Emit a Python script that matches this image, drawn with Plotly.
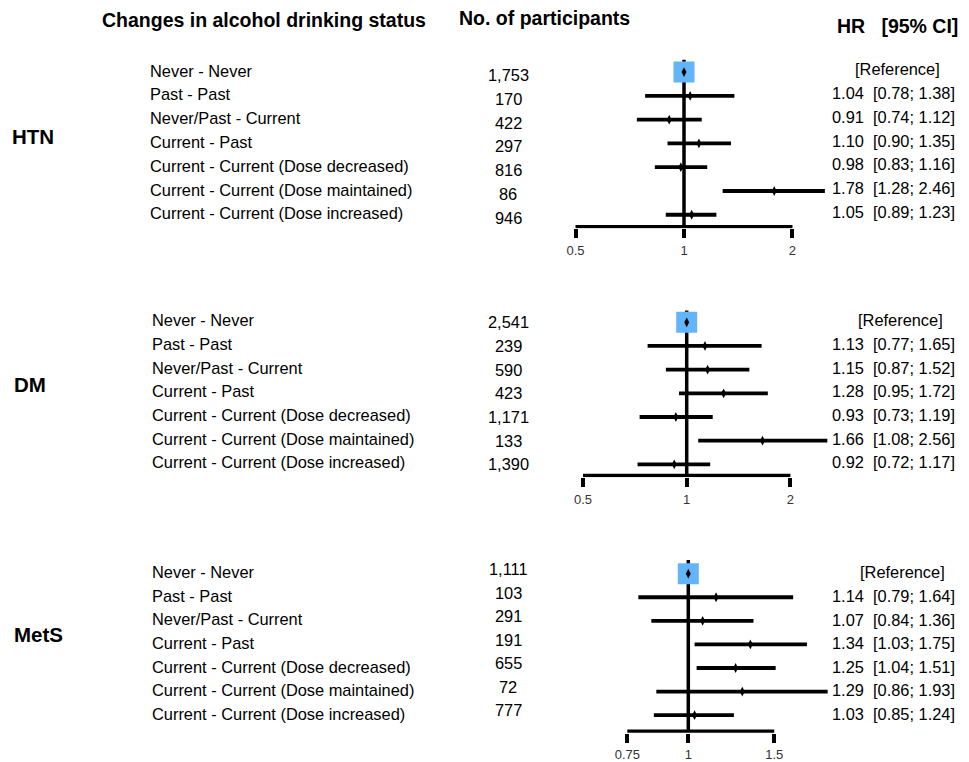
import math
import plotly.graph_objects as go

# ---------------- data ----------------
categories = [
    "Never - Never",
    "Past - Past",
    "Never/Past - Current",
    "Current - Past",
    "Current - Current (Dose decreased)",
    "Current - Current (Dose maintained)",
    "Current - Current (Dose increased)",
]
groups = ["HTN", "DM", "MetS"]

htn_n = ["1,753", "170", "422", "297", "816", "86", "946"]
htn_hr = [1.00, 1.04, 0.91, 1.10, 0.98, 1.78, 1.05]
htn_lo = [None, 0.78, 0.74, 0.90, 0.83, 1.28, 0.89]
htn_hi = [None, 1.38, 1.12, 1.35, 1.16, 2.46, 1.23]

dm_n = ["2,541", "239", "590", "423", "1,171", "133", "1,390"]
dm_hr = [1.00, 1.13, 1.15, 1.28, 0.93, 1.66, 0.92]
dm_lo = [None, 0.77, 0.87, 0.95, 0.73, 1.08, 0.72]
dm_hi = [None, 1.65, 1.52, 1.72, 1.19, 2.56, 1.17]

mets_n = ["1,111", "103", "291", "191", "655", "72", "777"]
mets_hr = [1.00, 1.14, 1.07, 1.34, 1.25, 1.29, 1.03]
mets_lo = [None, 0.79, 0.84, 1.03, 1.04, 0.86, 0.85]
mets_hi = [None, 1.64, 1.36, 1.75, 1.51, 1.93, 1.24]

htn_ticks = [0.5, 1, 2]
dm_ticks = [0.5, 1, 2]
mets_ticks = [0.75, 1, 1.5]
htn_ticktext = ["0.5", "1", "2"]
dm_ticktext = ["0.5", "1", "2"]
mets_ticktext = ["0.75", "1", "1.5"]

# ---------------- layout constants ----------------
W, H = 969, 762
FONT = "Liberation Sans, Arial, Helvetica, sans-serif"
TXT = 16.4
SQUARE_COLOR = "#63B4F8"
NB = "\u00a0"

panels = [
    dict(group="HTN", n=htn_n, hr=htn_hr, lo=htn_lo, hi=htn_hi,
         ticks=htn_ticks, ticktext=htn_ticktext,
         one_px=684.0, px_per_ln=156.5, row0_px=72.5, gap=23.9, axis_row=6.5,
         vtop=-0.52, label_x=148, label_dy=-0.06, num_dy=0.12, ci_dy=-0.12,
         ref_cx=897, group_y=137, group_x=10),
    dict(group="DM", n=dm_n, hr=dm_hr, lo=dm_lo, hi=dm_hi,
         ticks=dm_ticks, ticktext=dm_ticktext,
         one_px=686.7, px_per_ln=149.6, row0_px=324.0, gap=23.8, axis_row=6.47,
         vtop=-0.5, label_x=150, label_dy=-0.08, num_dy=0.0, ci_dy=-0.08,
         ref_cx=900, group_y=387, group_x=12),
    dict(group="MetS", n=mets_n, hr=mets_hr, lo=mets_lo, hi=mets_hi,
         ticks=mets_ticks, ticktext=mets_ticktext,
         one_px=688.3, px_per_ln=212.0, row0_px=576.7, gap=23.7, axis_row=6.68,
         vtop=-0.58, label_x=150, label_dy=-0.06, num_dy=-0.2, ci_dy=-0.05,
         ref_cx=902, group_y=638, group_x=12),
]

DOM_X0, DOM_X1 = 550, 860
EPS = 0.07

fig = go.Figure()
annotations = []
layout_axes = {}

for k, p in enumerate(panels):
    sfx = "" if k == 0 else str(k + 1)
    xa, ya = "x" + sfx, "y" + sfx
    rows = list(range(len(categories)))

    # x axis (log) calibrated in pixels
    per_dec = p["px_per_ln"] * math.log(10)
    xr = [(DOM_X0 - p["one_px"]) / per_dec, (DOM_X1 - p["one_px"]) / per_dec]
    # y axis: rows (reversed)
    ybot = p["axis_row"] + EPS
    ytop = -1.0
    dom_bot_px = p["row0_px"] + ybot * p["gap"]
    dom_top_px = p["row0_px"] + ytop * p["gap"]

    layout_axes["xaxis" + sfx] = dict(
        type="log", range=xr, domain=[DOM_X0 / W, DOM_X1 / W], anchor=ya,
        showgrid=False, zeroline=False, showline=False,
        tickmode="array", tickvals=p["ticks"], ticktext=p["ticktext"],
        ticks="outside", ticklen=9, tickwidth=3.5, tickcolor="black",
        tickfont=dict(family=FONT, size=13, color="#333333"),
        ticklabelstandoff=1, fixedrange=True,
    )
    layout_axes["yaxis" + sfx] = dict(
        range=[ybot, ytop], domain=[1 - dom_bot_px / H, 1 - dom_top_px / H],
        anchor=xa, visible=False, showgrid=False, zeroline=False, fixedrange=True,
    )

    # vertical reference line at HR = 1
    fig.add_trace(go.Scatter(x=[1, 1], y=[p["vtop"], p["axis_row"]], mode="lines",
                             line=dict(color="black", width=3.5),
                             xaxis=xa, yaxis=ya, hoverinfo="skip", showlegend=False))
    # horizontal axis line between extreme ticks
    fig.add_trace(go.Scatter(x=[p["ticks"][0], p["ticks"][-1]],
                             y=[p["axis_row"], p["axis_row"]], mode="lines",
                             line=dict(color="black", width=3.5),
                             xaxis=xa, yaxis=ya, hoverinfo="skip", showlegend=False))
    # CI lines
    cx, cy = [], []
    for i in rows:
        if p["lo"][i] is not None:
            cx += [p["lo"][i], p["hi"][i], None]
            cy += [i, i, None]
    fig.add_trace(go.Scatter(x=cx, y=cy, mode="lines",
                             line=dict(color="black", width=3.8),
                             xaxis=xa, yaxis=ya, hoverinfo="skip", showlegend=False))
    # reference square
    ref_rows = [i for i in rows if p["lo"][i] is None]
    fig.add_trace(go.Scatter(x=[p["hr"][i] for i in ref_rows], y=ref_rows, mode="markers",
                             marker=dict(symbol="square", size=21, color=SQUARE_COLOR,
                                         line=dict(width=0)),
                             xaxis=xa, yaxis=ya, hoverinfo="skip", showlegend=False))
    # point estimates
    fig.add_trace(go.Scatter(x=p["hr"], y=rows, mode="markers",
                             marker=dict(symbol="diamond-tall", size=7, color="black",
                                         line=dict(width=0)),
                             xaxis=xa, yaxis=ya, showlegend=False))

    # texts
    for i in rows:
        annotations.append(dict(text=categories[i], xref="paper", yref=ya,
                                x=p["label_x"] / W, y=i + p["label_dy"],
                                xanchor="left", yanchor="middle", showarrow=False,
                                font=dict(family=FONT, size=TXT, color="black")))
        annotations.append(dict(text=p["n"][i], xref="paper", yref=ya,
                                x=508 / W, y=i + p["num_dy"],
                                xanchor="center", yanchor="middle", showarrow=False,
                                font=dict(family=FONT, size=TXT, color="black")))
        if p["lo"][i] is None:
            annotations.append(dict(text="[Reference]", xref="paper", yref=ya,
                                    x=p["ref_cx"] / W, y=i + p["ci_dy"],
                                    xanchor="center", yanchor="middle", showarrow=False,
                                    font=dict(family=FONT, size=TXT, color="black")))
        else:
            s = f"{p['hr'][i]:.2f}{NB}{NB}[{p['lo'][i]:.2f}; {p['hi'][i]:.2f}]"
            annotations.append(dict(text=s, xref="paper", yref=ya,
                                    x=957 / W, y=i + p["ci_dy"],
                                    xanchor="right", yanchor="middle", showarrow=False,
                                    font=dict(family=FONT, size=TXT, color="black")))
    annotations.append(dict(text=f"<b>{p['group']}</b>", xref="paper", yref="paper",
                            x=p["group_x"] / W, y=1 - p["group_y"] / H,
                            xanchor="left", yanchor="middle", showarrow=False,
                            font=dict(family=FONT, size=20.5, color="black")))

# headers
HDR = 19.5
annotations += [
    dict(text="<b>Changes in alcohol drinking status</b>", xref="paper", yref="paper",
         x=100 / W, y=1 - 20 / H, xanchor="left", yanchor="middle", showarrow=False,
         font=dict(family=FONT, size=HDR, color="black")),
    dict(text="<b>No. of participants</b>", xref="paper", yref="paper",
         x=457 / W, y=1 - 18 / H, xanchor="left", yanchor="middle", showarrow=False,
         font=dict(family=FONT, size=HDR, color="black")),
    dict(text=f"<b>HR{NB}{NB}{NB}[95%{NB}CI]</b>", xref="paper", yref="paper",
         x=835 / W, y=1 - 26 / H, xanchor="left", yanchor="middle", showarrow=False,
         font=dict(family=FONT, size=HDR, color="black")),
]

fig.update_layout(
    width=W, height=H, margin=dict(l=0, r=0, t=0, b=0),
    paper_bgcolor="white", plot_bgcolor="white",
    showlegend=False, annotations=annotations,
    font=dict(family=FONT, color="black"),
    **layout_axes,
)

fig.write_html("out.html", config={"displayModeBar": False})
